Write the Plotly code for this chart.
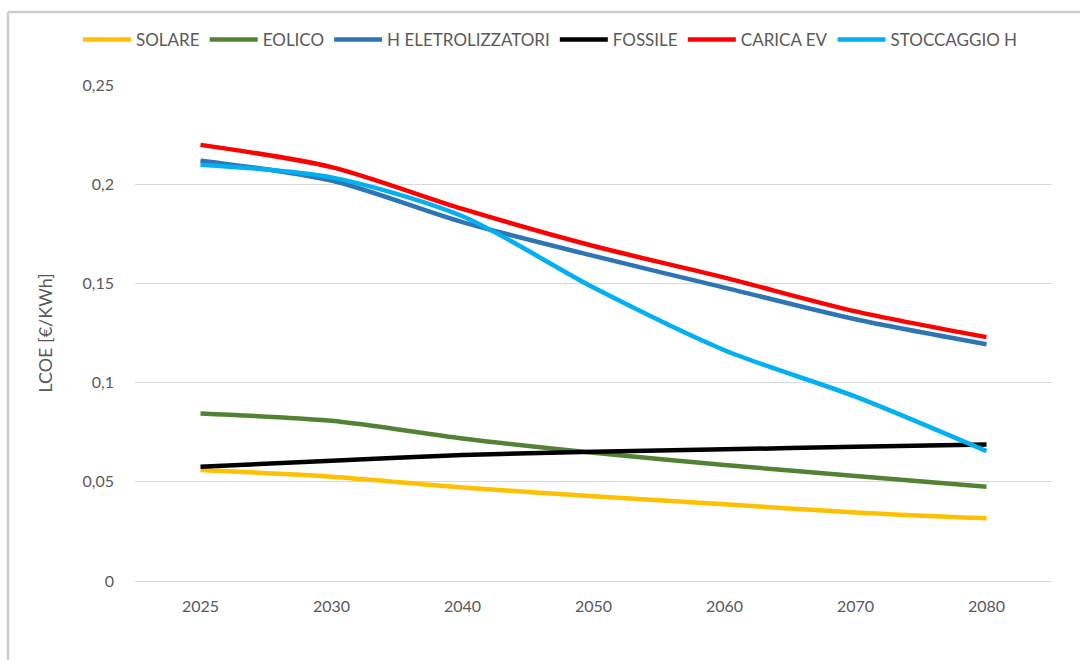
import plotly.graph_objects as go

# categories on the x axis (evenly spaced, as in the source chart)
years = ['2025', '2030', '2040', '2050', '2060', '2070', '2080']

# LCOE values in EUR/kWh
solare = [0.056, 0.0526, 0.0472, 0.0428, 0.0387, 0.0346, 0.0316]
eolico = [0.0845, 0.0808, 0.0719, 0.0647, 0.0585, 0.053, 0.0476]
h_elettrolizzatori = [0.212, 0.202, 0.181, 0.164, 0.148, 0.132, 0.1194]
fossile = [0.0576, 0.0607, 0.0635, 0.0652, 0.0664, 0.0677, 0.0689]
carica_ev = [0.220, 0.2088, 0.1877, 0.169, 0.153, 0.136, 0.123]
stoccaggio_h = [0.210, 0.2036, 0.184, 0.148, 0.1164, 0.093, 0.0655]

series = [
    ('SOLARE', solare, '#FFC000'),
    ('EOLICO', eolico, '#548235'),
    ('H ELETROLIZZATORI', h_elettrolizzatori, '#2E75B6'),
    ('FOSSILE', fossile, '#000000'),
    ('CARICA EV', carica_ev, '#FF0000'),
    ('STOCCAGGIO H', stoccaggio_h, '#00B0F0'),
]

font_family = 'Lato, sans-serif'
grey = '#595959'

fig = go.Figure()
for name, vals, color in series:
    fig.add_trace(go.Scatter(x=years, y=vals, name=name, mode='lines',
                             line=dict(color=color, width=4.5, shape='spline', smoothing=0.8)))

# plot area in pixels: x 135..1052, y 85..581
L, R, T, B = 135, 28, 85, 79
pw, ph = 1080 - L - R, 660 - T - B


def px_x(p):
    return (p - L) / pw


def px_y(p):
    return (T + ph - p) / ph


# light grey chart-area frame (top and left edges are the visible ones)
frame = dict(color='#CCCCCC', width=2.5)
shapes = [
    dict(type='line', xref='paper', yref='paper', x0=px_x(8), x1=px_x(1080), y0=px_y(12), y1=px_y(12),
         line=frame, layer='below'),
    dict(type='line', xref='paper', yref='paper', x0=px_x(8), x1=px_x(8), y0=px_y(12), y1=px_y(660),
         line=frame, layer='below'),
]

fig.update_layout(
    width=1080, height=660,
    margin=dict(l=L, r=R, t=T, b=B),
    paper_bgcolor='white', plot_bgcolor='white',
    separators=',.',
    font=dict(family=font_family, color=grey, size=15),
    showlegend=True,
    legend=dict(orientation='h', x=px_x(78), xanchor='left', y=px_y(40), yanchor='middle',
                bgcolor='rgba(0,0,0,0)',
                font=dict(size=17, color=grey), itemwidth=48, tracegroupgap=0),
    xaxis=dict(type='category', range=[-0.5, 6.5], showgrid=False, showline=False, ticks='',
               ticklabelstandoff=14, tickfont=dict(size=16, color=grey)),
    yaxis=dict(range=[0, 0.2502], tickvals=[0, 0.05, 0.1, 0.15, 0.2, 0.25], showgrid=True,
               gridcolor='#D9D9D9', gridwidth=1,
               zeroline=True, zerolinecolor='#D9D9D9', zerolinewidth=1, showline=False, ticks='',
               ticklabelstandoff=20, tickfont=dict(size=16, color=grey),
               title=dict(text='LCOE [€/KWh]', font=dict(size=18, color=grey), standoff=25)),
    shapes=shapes,
)

# drop the browser's default body margin so the figure sits at the page origin
fig.write_html('out.html', config={'displayModeBar': False},
               post_script="document.body.style.margin='0';")
